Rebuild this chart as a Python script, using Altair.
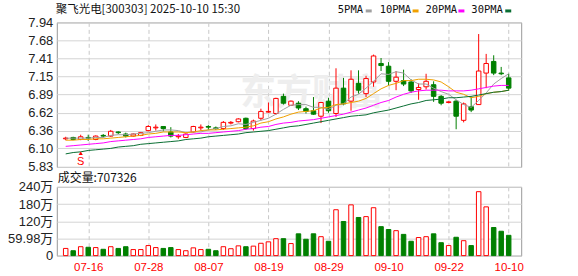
import altair as alt
import pandas as pd

# ---------------- data ----------------
dates = ["07-11", "07-14", "07-15", "07-16", "07-17", "07-18", "07-21", "07-22", "07-23", "07-24",
         "07-25", "07-28", "07-29", "07-30", "07-31", "08-01", "08-04", "08-05", "08-06", "08-07",
         "08-08", "08-11", "08-12", "08-13", "08-14", "08-15", "08-18", "08-19", "08-20", "08-21",
         "08-22", "08-25", "08-26", "08-27", "08-28", "08-29", "09-01", "09-02", "09-03", "09-04",
         "09-05", "09-08", "09-09", "09-10", "09-11", "09-12", "09-15", "09-16", "09-17", "09-18",
         "09-19", "09-22", "09-23", "09-24", "09-25", "09-26", "09-29", "09-30", "10-09", "10-10"]

opens = [6.24, 6.26, 6.23, 6.26, 6.23, 6.29, 6.28, 6.34, 6.31, 6.28,
         6.29, 6.36, 6.40, 6.42, 6.34, 6.27, 6.26, 6.34, 6.40, 6.42,
         6.40, 6.39, 6.47, 6.49, 6.54, 6.39, 6.54, 6.63, 6.61, 6.86,
         6.73, 6.76, 6.68, 6.65, 6.57, 6.79, 6.61, 6.98, 6.79, 7.05,
         6.90, 7.07, 7.34, 7.30, 7.08, 7.09, 7.07, 6.96, 7.00, 7.03,
         6.86, 6.77, 6.79, 6.51, 6.71, 6.74, 7.20, 7.37, 7.20, 7.13]
highs = [6.27, 6.27, 6.30, 6.30, 6.29, 6.31, 6.37, 6.35, 6.33, 6.32,
         6.34, 6.44, 6.45, 6.42, 6.41, 6.31, 6.32, 6.43, 6.45, 6.44,
         6.42, 6.50, 6.50, 6.54, 6.55, 6.52, 6.68, 6.77, 6.84, 6.90,
         6.80, 6.79, 6.71, 6.85, 6.78, 6.84, 7.27, 7.13, 7.24, 7.24,
         7.16, 7.47, 7.42, 7.36, 7.23, 7.25, 7.11, 7.05, 7.19, 7.08,
         6.88, 6.79, 6.81, 6.77, 6.86, 7.77, 7.48, 7.46, 7.29, 7.19]
lows = [6.22, 6.22, 6.22, 6.21, 6.22, 6.26, 6.27, 6.31, 6.26, 6.27,
        6.28, 6.35, 6.36, 6.35, 6.26, 6.24, 6.25, 6.33, 6.36, 6.37,
        6.37, 6.37, 6.45, 6.48, 6.37, 6.36, 6.51, 6.62, 6.59, 6.74,
        6.72, 6.66, 6.61, 6.59, 6.47, 6.62, 6.56, 6.73, 6.65, 6.90,
        6.85, 7.00, 7.23, 7.02, 6.95, 7.01, 6.91, 6.81, 6.96, 6.78,
        6.73, 6.76, 6.38, 6.48, 6.63, 6.74, 6.98, 7.17, 7.17, 6.94]
closes = [6.25, 6.23, 6.27, 6.25, 6.28, 6.28, 6.35, 6.33, 6.28, 6.31,
          6.33, 6.42, 6.41, 6.39, 6.28, 6.28, 6.31, 6.42, 6.41, 6.41,
          6.39, 6.48, 6.48, 6.53, 6.39, 6.50, 6.64, 6.64, 6.83, 6.76,
          6.79, 6.69, 6.64, 6.60, 6.77, 6.65, 6.98, 6.75, 7.11, 6.95,
          7.12, 7.45, 7.31, 7.08, 7.14, 7.04, 6.94, 6.99, 7.08, 6.86,
          6.76, 6.78, 6.57, 6.75, 6.66, 7.23, 7.34, 7.20, 7.19, 6.98]
# volume in 万
volumes = [25, 17, 31, 29, 28, 22, 31, 25, 31, 21,
           21, 35, 28, 25, 28, 21, 17, 27, 21, 22,
           17, 31, 24, 34, 31, 33, 43, 48, 59, 59,
           42, 76, 57, 76, 66, 50, 160, 119, 177, 133,
           136, 167, 101, 91, 87, 74, 50, 63, 66, 76,
           45, 35, 64, 52, 35, 223, 170, 98, 85, 70.73]

ma5 = [6.25, 6.25, 6.25, 6.25, 6.26, 6.26, 6.29, 6.30, 6.30, 6.31,
       6.32, 6.33, 6.35, 6.37, 6.37, 6.36, 6.33, 6.34, 6.34, 6.37,
       6.39, 6.42, 6.43, 6.46, 6.45, 6.48, 6.51, 6.54, 6.60, 6.67,
       6.73, 6.74, 6.74, 6.70, 6.70, 6.67, 6.73, 6.75, 6.85, 6.89,
       6.98, 7.08, 7.19, 7.18, 7.22, 7.20, 7.10, 7.04, 7.04, 6.98,
       6.93, 6.89, 6.81, 6.74, 6.70, 6.80, 6.91, 7.04, 7.12, 7.19]
ma10 = [6.22, 6.22, 6.23, 6.23, 6.24, 6.24, 6.25, 6.26, 6.27, 6.28,
        6.29, 6.31, 6.32, 6.34, 6.34, 6.34, 6.33, 6.34, 6.36, 6.37,
        6.37, 6.38, 6.39, 6.40, 6.41, 6.43, 6.47, 6.49, 6.53, 6.56,
        6.60, 6.63, 6.64, 6.65, 6.69, 6.70, 6.74, 6.75, 6.77, 6.79,
        6.83, 6.90, 6.97, 7.02, 7.05, 7.09, 7.09, 7.11, 7.11, 7.10,
        7.07, 7.00, 6.92, 6.89, 6.84, 6.86, 6.90, 6.92, 6.93, 6.95]
ma20 = [6.13, 6.14, 6.15, 6.16, 6.17, 6.18, 6.20, 6.21, 6.22, 6.23,
        6.24, 6.26, 6.27, 6.28, 6.29, 6.29, 6.30, 6.31, 6.32, 6.32,
        6.33, 6.34, 6.35, 6.36, 6.38, 6.39, 6.41, 6.42, 6.45, 6.47,
        6.48, 6.50, 6.51, 6.52, 6.54, 6.56, 6.58, 6.60, 6.63, 6.66,
        6.69, 6.73, 6.77, 6.80, 6.85, 6.89, 6.92, 6.94, 6.95, 6.95,
        6.95, 6.94, 6.94, 6.94, 6.95, 6.97, 6.99, 7.01, 7.02, 7.02]
ma30 = [6.02, 6.04, 6.05, 6.07, 6.08, 6.09, 6.10, 6.12, 6.13, 6.14,
        6.16, 6.17, 6.18, 6.19, 6.20, 6.21, 6.23, 6.24, 6.25, 6.27,
        6.28, 6.29, 6.30, 6.31, 6.33, 6.34, 6.35, 6.36, 6.38, 6.40,
        6.42, 6.43, 6.45, 6.47, 6.49, 6.51, 6.53, 6.55, 6.57, 6.58,
        6.59, 6.62, 6.64, 6.66, 6.69, 6.72, 6.75, 6.77, 6.80, 6.81,
        6.82, 6.84, 6.84, 6.85, 6.86, 6.88, 6.90, 6.92, 6.93, 6.95]

ma_names = ["5PMA", "10PMA", "20PMA", "30PMA"]
ma_colors = ["#a0a0a0", "#f0a000", "#ff00ff", "#0a6e33"]

price_ticks = [5.83, 6.10, 6.36, 6.62, 6.89, 7.15, 7.41, 7.68, 7.94]
vol_ticks = [0, 59.98, 119.96, 179.94, 239.92]
vol_tick_labels = ["0", "59.98万", "120万", "180万", "240万"]
date_tick_idx = [3, 11, 19, 27, 35, 43, 51, 59]

signal_idx = [2]
signal_arrow_price = [6.03]
signal_text_price = [5.90]
signal_text = ["S"]

title_text = "聚飞光电[300303] 2025-10-10 15:30"
vol_title = "成交量:707326"

# ---------------- tables ----------------
n = len(dates)
df = pd.DataFrame({
    "i": list(range(n)), "date": dates, "open": opens, "high": highs,
    "low": lows, "close": closes, "vol": volumes,
    "ma5": ma5, "ma10": ma10, "ma20": ma20, "ma30": ma30,
})
df["dir"] = ["up" if c >= o else "down" for o, c in zip(opens, closes)]

sig_df = pd.DataFrame({"i": signal_idx, "ap": signal_arrow_price,
                       "tp": signal_text_price, "t": signal_text})

W, H1, H2 = 466, 145, 69
RED, GREEN = "#ff0000", "#008000"
GRID_H = "#d4d4d4"
GRID_V = "#c8c8c8"
LABEL_FONT = "Liberation Sans, Noto Sans CJK SC"

stroke_scale = alt.Scale(domain=["up", "down"], range=[RED, GREEN])
fill_scale = alt.Scale(domain=["up", "down"], range=["#ffffff", GREEN])
xscale = alt.Scale(domain=[-0.52, 60.0], nice=False, zero=False)
yscale = alt.Scale(domain=[5.83, 7.94], nice=False, zero=False)

one = alt.Data(values=[{}])

# ---------------- main (price) panel ----------------
x_axis = alt.Axis(values=date_tick_idx, tickCount=len(date_tick_idx), labels=False,
                  ticks=False, domain=False, grid=True, gridDash=[4, 3], gridColor=GRID_V)
y_axis = alt.Axis(values=price_ticks, tickCount=len(price_ticks), format=".2f", ticks=False,
                  domain=False, grid=True, gridColor=GRID_H, labelFontSize=13,
                  labelFont=LABEL_FONT, labelColor="#222222", labelPadding=4,
                  labelOverlap=False)


def xq(field="i"):
    return alt.X(field + ":Q", scale=xscale, axis=x_axis, title=None)


def yq(field):
    return alt.Y(field + ":Q", scale=yscale, axis=y_axis, title=None)


bounds_main = alt.Chart(one).mark_rect(opacity=0).encode(
    x=alt.value(-56), x2=alt.value(W + 56), y=alt.value(-21), y2=alt.value(H1))

watermark = alt.Chart(one).mark_text(
    align="left", baseline="middle", fontSize=36, font="Noto Sans CJK SC",
    color="#eeeeee", fontWeight="bold").encode(
    x=alt.value(184), y=alt.value(72), text=alt.value("东方财富"))

wicks = alt.Chart(df).mark_rule(strokeWidth=1).encode(
    x=xq(), y=yq("low"), y2="high:Q",
    stroke=alt.Stroke("dir:N", scale=stroke_scale, legend=None))
bodies = alt.Chart(df).mark_bar(size=4.5, strokeWidth=1).encode(
    x=xq(), y=yq("open"), y2="close:Q",
    fill=alt.Fill("dir:N", scale=fill_scale, legend=None),
    stroke=alt.Stroke("dir:N", scale=stroke_scale, legend=None))

ma_layers = []
for name, col, field in zip(ma_names, ma_colors, ["ma5", "ma10", "ma20", "ma30"]):
    ma_layers.append(alt.Chart(df).mark_line(strokeWidth=1, color=col).encode(
        x=xq(), y=yq(field)))

sig_arrow = alt.Chart(sig_df).mark_point(shape="triangle-up", filled=True, size=18,
                                         color=RED, opacity=1).encode(x=xq(), y=yq("ap"))
sig_text = alt.Chart(sig_df).mark_text(fontSize=11, color=RED, font="Liberation Sans",
                                       baseline="middle").encode(
    x=xq(), y=yq("tp"), text="t:N")

title_mark = alt.Chart(one).mark_text(
    align="left", baseline="middle", fontSize=11.5, font="Noto Sans CJK SC", color="#111111").encode(
    x=alt.value(-1), y=alt.value(-12.5), text=alt.value(title_text))

legend_layers = []
legend_text_x = [282, 324, 370, 416]
legend_mark_x = [310, 357, 403, 450]
for name, col, tx, mx in zip(ma_names, ma_colors, legend_text_x, legend_mark_x):
    legend_layers.append(alt.Chart(one).mark_text(
        align="left", baseline="middle", fontSize=10.5, font="DejaVu Sans Mono", color="#111111").encode(
        x=alt.value(tx), y=alt.value(-12), text=alt.value(name)))
    legend_layers.append(alt.Chart(one).mark_rect(color=col).encode(
        x=alt.value(mx), x2=alt.value(mx + 6), y=alt.value(-13), y2=alt.value(-10)))

main = alt.layer(bounds_main, watermark, wicks, bodies, *ma_layers, sig_arrow, sig_text,
                 title_mark, *legend_layers).properties(width=W, height=H1)

# ---------------- volume panel ----------------
date_expr = "[" + ",".join("'%s'" % d for d in dates) + "][datum.value]"
vol_expr = ("[" + ",".join("'%s'" % s for s in vol_tick_labels) + "][indexof(["
            + ",".join(str(v) for v in vol_ticks) + "], datum.value)]")

x_vol = alt.X("i:Q", scale=xscale, title=None,
              axis=alt.Axis(values=date_tick_idx, tickCount=len(date_tick_idx),
                            labelExpr=date_expr, ticks=False, domain=False,
                            grid=True, gridDash=[4, 3], gridColor=GRID_V, labelColor=RED,
                            labelFontSize=11.5, labelFont="Liberation Sans", labelPadding=6,
                            labelFlush=False, labelOverlap=False))
vol_bars = alt.Chart(df).mark_bar(size=4.5, strokeWidth=1).encode(
    x=x_vol,
    y=alt.Y("vol:Q", scale=alt.Scale(domain=[0, 239.92], nice=False), title=None,
            axis=alt.Axis(values=vol_ticks, tickCount=len(vol_ticks), labelExpr=vol_expr,
                          ticks=False, domain=False, grid=True, gridColor=GRID_H,
                          labelFontSize=13, labelFont=LABEL_FONT, labelColor="#222222",
                          labelPadding=4, labelOverlap=False)),
    fill=alt.Fill("dir:N", scale=fill_scale, legend=None),
    stroke=alt.Stroke("dir:N", scale=stroke_scale, legend=None))

bounds_vol = alt.Chart(one).mark_rect(opacity=0).encode(
    x=alt.value(-56), x2=alt.value(W + 56), y=alt.value(0), y2=alt.value(H2 + 21))

vol_title_mark = alt.Chart(one).mark_text(
    align="left", baseline="middle", fontSize=12, font="Noto Sans CJK SC", color="#111111").encode(
    x=alt.value(1), y=alt.value(-8.5), text=alt.value(vol_title))

vol = alt.layer(bounds_vol, vol_bars, vol_title_mark).properties(width=W, height=H2)

chart = alt.vconcat(main, vol, spacing=20, bounds="flush").properties(
    padding=0, background="#ffffff"
).configure_view(stroke="#999999", strokeWidth=1)

chart.save("out.html", embed_options={"renderer": "svg", "actions": False})
